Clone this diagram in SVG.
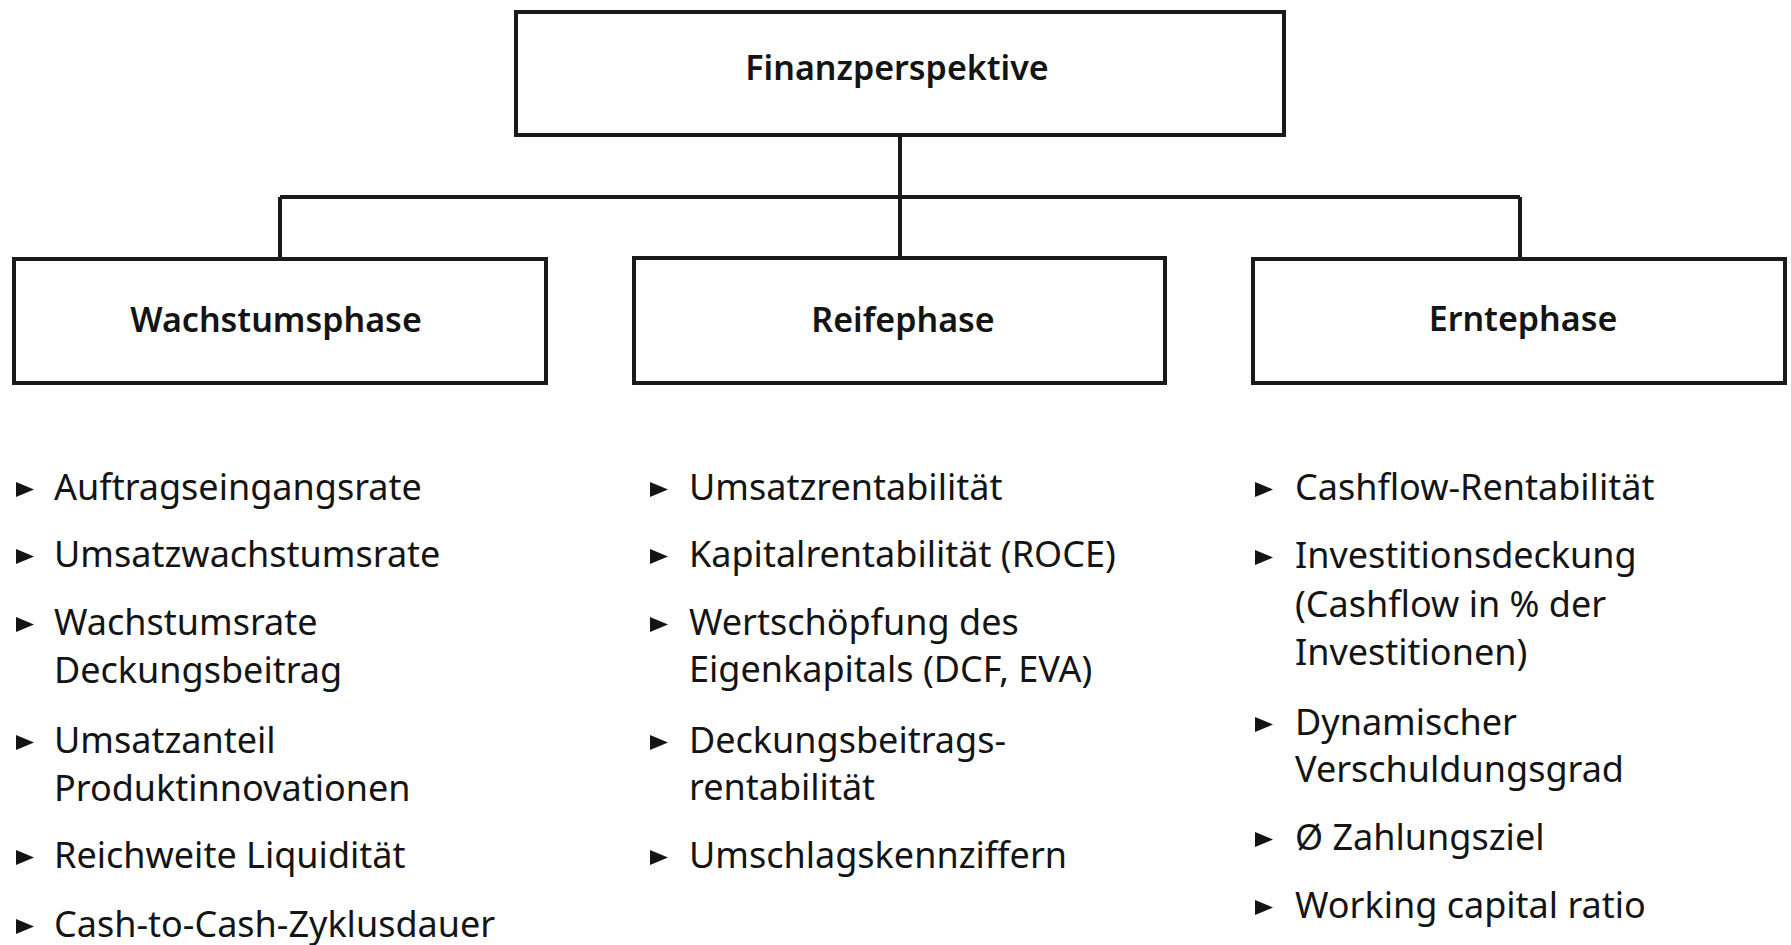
<svg xmlns="http://www.w3.org/2000/svg" xmlns:xlink="http://www.w3.org/1999/xlink" width="1791" height="945" viewBox="0 0 1791 945">
  <style>
    .box { fill: #fdfefd; stroke: #1a1a1a; stroke-width: 4; }
    .wire { fill: none; stroke: #1a1a1a; stroke-width: 4; }
    .head { font-family: "Noto Sans", "Liberation Sans", sans-serif; font-size: 34px; font-weight: 600; fill: #141414; text-anchor: middle; }
    .item { font-family: "Noto Sans", "Liberation Sans", sans-serif; font-size: 36px; fill: #141414; }
  </style>
  <defs>
    <!-- small bullet triangle, origin at the text baseline -->
    <path id="tri" d="M0,-18 L0,-3 L18,-10.5 Z" fill="#141414"/>
  </defs>
  <rect width="1791" height="945" fill="#fdfefd"/>

  <g id="connectors">
    <path class="wire" d="M900,135 V258"/>
    <path class="wire" d="M280,197 H1520"/>
    <path class="wire" d="M280,197 V259"/>
    <path class="wire" d="M1520,197 V259"/>
  </g>

  <g id="finanzperspektive">
    <rect class="box" x="516" y="12" width="768" height="123"/>
    <text class="head" x="897" y="80">Finanzperspektive</text>
  </g>

  <g id="wachstumsphase">
    <rect class="box" x="14" y="259" width="532" height="124"/>
    <text class="head" x="276" y="332">Wachstumsphase</text>
  </g>

  <g id="reifephase">
    <rect class="box" x="634" y="258" width="531" height="125"/>
    <text class="head" x="903" y="332">Reifephase</text>
  </g>

  <g id="erntephase">
    <rect class="box" x="1253" y="259" width="532" height="124"/>
    <text class="head" x="1523" y="331">Erntephase</text>
  </g>

  <g id="list-wachstum">
    <use xlink:href="#tri" x="16" y="500"/>
    <text class="item" x="54" y="500">Auftragseingangsrate</text>
    <use xlink:href="#tri" x="16" y="567"/>
    <text class="item" x="54" y="567">Umsatzwachstumsrate</text>
    <use xlink:href="#tri" x="16" y="635"/>
    <text class="item" x="54" y="635">Wachstumsrate</text>
    <text class="item" x="54" y="683">Deckungsbeitrag</text>
    <use xlink:href="#tri" x="16" y="753"/>
    <text class="item" x="54" y="753">Umsatzanteil</text>
    <text class="item" x="54" y="801">Produktinnovationen</text>
    <use xlink:href="#tri" x="16" y="868"/>
    <text class="item" x="54" y="868">Reichweite Liquidität</text>
    <use xlink:href="#tri" x="16" y="937"/>
    <text class="item" x="54" y="937">Cash-to-Cash-Zyklusdauer</text>
  </g>

  <g id="list-reife">
    <use xlink:href="#tri" x="650" y="500"/>
    <text class="item" x="689" y="500">Umsatzrentabilität</text>
    <use xlink:href="#tri" x="650" y="567"/>
    <text class="item" x="689" y="567">Kapitalrentabilität (ROCE)</text>
    <use xlink:href="#tri" x="650" y="635"/>
    <text class="item" x="689" y="635">Wertschöpfung des</text>
    <text class="item" x="689" y="682">Eigenkapitals (DCF, EVA)</text>
    <use xlink:href="#tri" x="650" y="753"/>
    <text class="item" x="689" y="753">Deckungsbeitrags-</text>
    <text class="item" x="689" y="800">rentabilität</text>
    <use xlink:href="#tri" x="650" y="868"/>
    <text class="item" x="689" y="868">Umschlagskennziffern</text>
  </g>

  <g id="list-ernte">
    <use xlink:href="#tri" x="1255" y="500"/>
    <text class="item" x="1295" y="500">Cashflow-Rentabilität</text>
    <use xlink:href="#tri" x="1255" y="568"/>
    <text class="item" x="1295" y="568">Investitionsdeckung</text>
    <text class="item" x="1295" y="617">(Cashflow in % der</text>
    <text class="item" x="1295" y="665">Investitionen)</text>
    <use xlink:href="#tri" x="1255" y="735"/>
    <text class="item" x="1295" y="735">Dynamischer</text>
    <text class="item" x="1295" y="782">Verschuldungsgrad</text>
    <use xlink:href="#tri" x="1255" y="850"/>
    <text class="item" x="1295" y="850">Ø Zahlungsziel</text>
    <use xlink:href="#tri" x="1255" y="918"/>
    <text class="item" x="1295" y="918">Working capital ratio</text>
  </g>
</svg>
